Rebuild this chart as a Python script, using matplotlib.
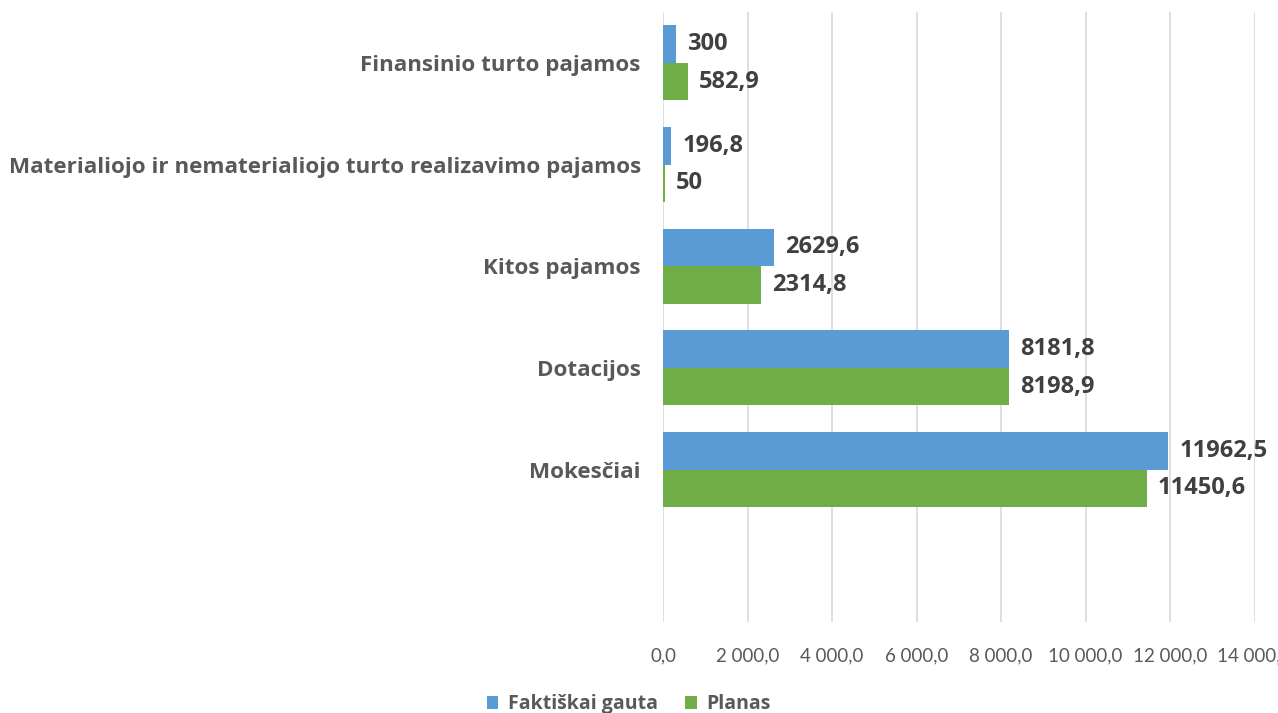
import matplotlib.pyplot as plt
import numpy as np

categories = ["Mokesčiai", "Dotacijos", "Kitos pajamos",
              "Materialiojo ir nematerialiojo turto realizavimo pajamos",
              "Finansinio turto pajamos"]
faktiskai = [11962.5, 8181.8, 2629.6, 196.8, 300]
planas = [11450.6, 8198.9, 2314.8, 50, 582.9]
fakt_labels = ["11962,5", "8181,8", "2629,6", "196,8", "300"]
plan_labels = ["11450,6", "8198,9", "2314,8", "50", "582,9"]
xticks = [0, 2000, 4000, 6000, 8000, 10000, 12000, 14000]
xtick_labels = ["0,0", "2 000,0", "4 000,0", "6 000,0", "8 000,0",
                "10 000,0", "12 000,0", "14 000,0"]

blue = "#5B9BD5"
green = "#70AD47"
plt.rcParams['font.family'] = ['Open Sans', 'DejaVu Sans']

fig = plt.figure(figsize=(12.78, 7.13), dpi=100)
ax = fig.add_axes([663 / 1278, 1 - 622 / 713, 591.5 / 1278, 610 / 713])

y = np.arange(len(categories))
h = 0.37
ax.barh(y + h / 2, faktiskai, height=h, color=blue, label="Faktiškai gauta", zorder=3)
ax.barh(y - h / 2, planas, height=h, color=green, label="Planas", zorder=3)

for i in range(len(categories)):
    ax.annotate(fakt_labels[i], (faktiskai[i], y[i] + h / 2), xytext=(8, 0),
                textcoords="offset points", va="center", ha="left",
                fontsize=17, fontweight="bold", color="#404040", annotation_clip=False)
    ax.annotate(plan_labels[i], (planas[i], y[i] - h / 2), xytext=(8, 0),
                textcoords="offset points", va="center", ha="left",
                fontsize=17, fontweight="bold", color="#404040", annotation_clip=False)

ax.set_xlim(0, 14000)
ax.set_ylim(-1.5, 4.5)
ax.set_xticks(xticks)
ax.set_xticklabels(xtick_labels, fontsize=13.5, color="#595959",
                   family=['Lato', 'DejaVu Sans'])
ax.set_yticks(y)
ax.set_yticklabels(categories, fontsize=16.1, fontweight="bold", color="#595959")
ax.tick_params(axis="both", length=0)
ax.tick_params(axis="x", pad=18)
ax.tick_params(axis="y", pad=16)
ax.grid(axis="x", color="#D9D9D9", linewidth=1.2, zorder=0)
for s in ax.spines.values():
    s.set_visible(False)

fig.legend(loc="center", bbox_to_anchor=(0.492, 0.012), ncol=2, frameon=False,
           prop={"weight": "bold", "size": 14}, handlelength=0.6,
           handleheight=0.6, columnspacing=1.4, handletextpad=0.5,
           labelcolor="#595959")

fig.savefig("out.png", dpi=100)
